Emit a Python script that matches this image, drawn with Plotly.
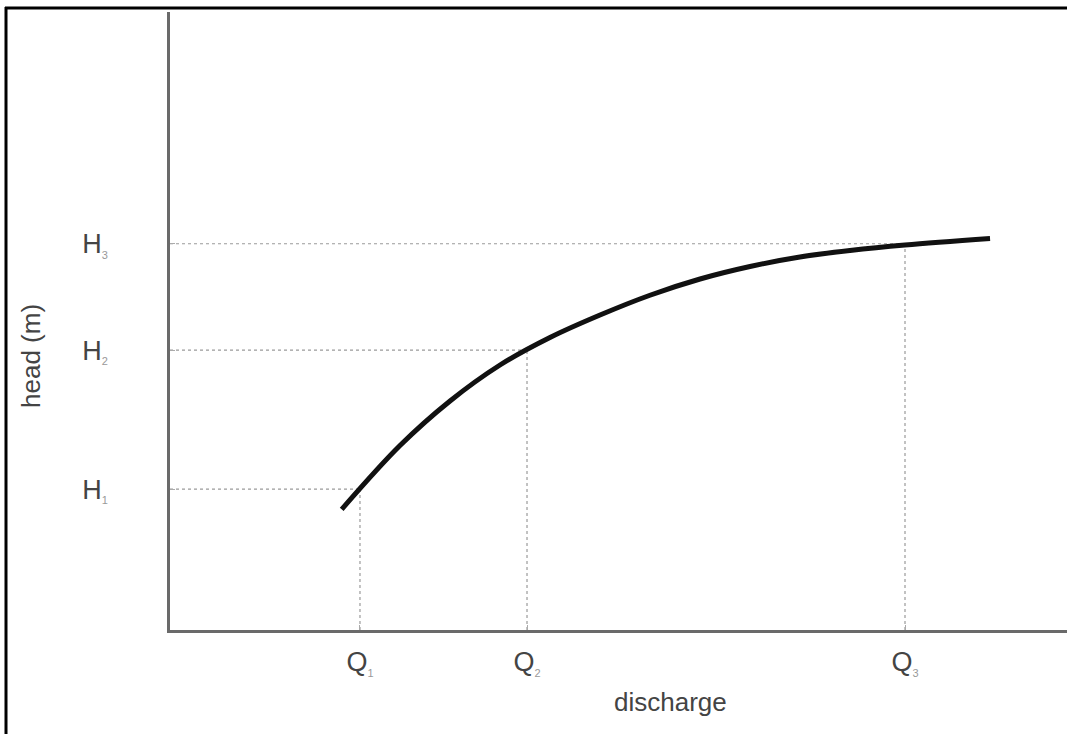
import plotly.graph_objects as go

# curve points (discharge, head)
curve_q = [1.914, 2.564, 3.122, 3.679, 4.236, 4.794, 5.351, 5.909, 6.466, 7.023, 7.581, 8.194, 9.142]
curve_h = [1.953, 2.985, 3.706, 4.288, 4.733, 5.097, 5.417, 5.680, 5.882, 6.036, 6.141, 6.230, 6.335]

# operating points
q_points = [2.118, 3.98, 8.194]
h_points = [2.28, 4.53, 6.25]
q_labels = ["Q<sub><span style='font-size:11px;color:#999'>1</span></sub>",
            "Q<sub><span style='font-size:11px;color:#999'>2</span></sub>",
            "Q<sub><span style='font-size:11px;color:#999'>3</span></sub>"]
h_labels = ["H<sub><span style='font-size:11px;color:#999'>1</span></sub>",
            "H<sub><span style='font-size:11px;color:#999'>2</span></sub>",
            "H<sub><span style='font-size:11px;color:#999'>3</span></sub>"]

fig = go.Figure()

# dotted guide lines
for q, h in zip(q_points, h_points):
    fig.add_trace(go.Scatter(x=[0, q], y=[h, h], mode="lines",
                             line=dict(color="#9a9a9a", width=1.2, dash="dot"),
                             hoverinfo="skip", showlegend=False))
    fig.add_trace(go.Scatter(x=[q, q], y=[0, h], mode="lines",
                             line=dict(color="#9a9a9a", width=1.2, dash="dot"),
                             hoverinfo="skip", showlegend=False))

fig.add_trace(go.Scatter(x=curve_q, y=curve_h, mode="lines",
                         line=dict(color="#111111", width=5, shape="spline", smoothing=1.0),
                         showlegend=False))

font = "Liberation Sans, Arial, sans-serif"

fig.update_layout(
    width=1067, height=734,
    margin=dict(l=170, r=0, t=12, b=104),
    paper_bgcolor="white", plot_bgcolor="white",
    font=dict(family=font, color="#444444"),
    xaxis=dict(range=[0, 10], showgrid=False, zeroline=False,
               showline=True, linecolor="#6a6a6a", linewidth=2.5,
               tickmode="array", tickvals=q_points, ticktext=q_labels,
               ticks="inside", ticklen=5, tickcolor="#aaaaaa",
               tickfont=dict(size=27, color="#444444", family=font),
               ticklabelstandoff=6),
    yaxis=dict(range=[0, 10], showgrid=False, zeroline=False,
               showline=True, linecolor="#6a6a6a", linewidth=2.5,
               tickmode="array", tickvals=h_points, ticktext=h_labels,
               ticks="inside", ticklen=5, tickcolor="#aaaaaa",
               tickfont=dict(size=27, color="#444444", family=font),
               ticklabelstandoff=54),
    annotations=[
        dict(text="discharge", xref="paper", yref="paper",
             x=(670 - 170) / 897, y=(630 - 702) / 618,
             xanchor="center", yanchor="middle", showarrow=False,
             font=dict(size=26, color="#444444", family=font)),
        dict(text="head (m)", xref="paper", yref="paper",
             x=(31 - 170) / 897, y=(630 - 356) / 618, textangle=-90,
             xanchor="center", yanchor="middle", showarrow=False,
             font=dict(size=26, color="#444444", family=font)),
    ],
    shapes=[
        dict(type="line", xref="paper", yref="paper",
             x0=(5 - 170) / 897, x1=(1070 - 170) / 897,
             y0=(630 - 8) / 618, y1=(630 - 8) / 618,
             line=dict(color="black", width=3)),
        dict(type="line", xref="paper", yref="paper",
             x0=(6 - 170) / 897, x1=(6 - 170) / 897,
             y0=(630 - 7) / 618, y1=(630 - 740) / 618,
             line=dict(color="black", width=3)),
    ],
)

fig.write_html("out.html", config={"displayModeBar": False},
               post_script="document.body.style.margin='0';document.body.style.overflow='hidden';")
